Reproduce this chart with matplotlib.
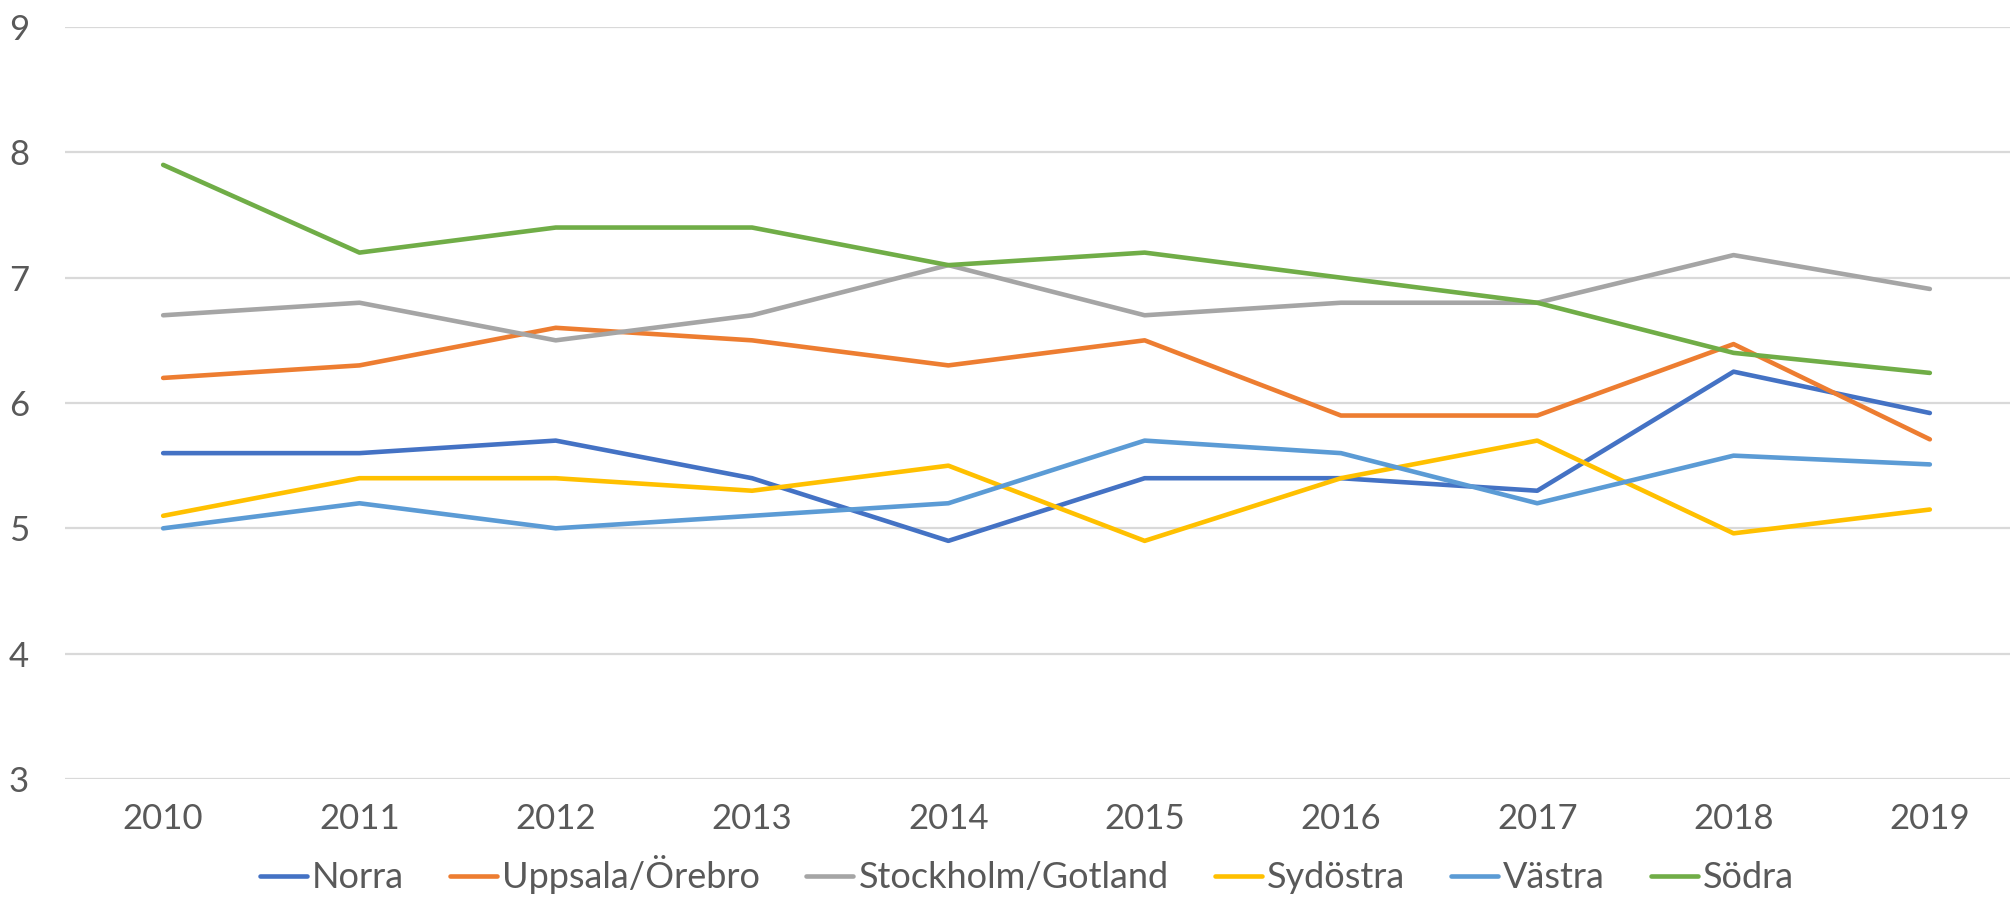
import matplotlib
matplotlib.use('Agg')
import matplotlib.pyplot as plt

years = ['2010', '2011', '2012', '2013', '2014', '2015', '2016', '2017', '2018', '2019']

norra = [5.6, 5.6, 5.7, 5.4, 4.9, 5.4, 5.4, 5.3, 6.25, 5.92]
uppsala_orebro = [6.2, 6.3, 6.6, 6.5, 6.3, 6.5, 5.9, 5.9, 6.47, 5.71]
stockholm_gotland = [6.7, 6.8, 6.5, 6.7, 7.1, 6.7, 6.8, 6.8, 7.18, 6.91]
sydostra = [5.1, 5.4, 5.4, 5.3, 5.5, 4.9, 5.4, 5.7, 4.96, 5.15]
vastra = [5.0, 5.2, 5.0, 5.1, 5.2, 5.7, 5.6, 5.2, 5.58, 5.51]
sodra = [7.9, 7.2, 7.4, 7.4, 7.1, 7.2, 7.0, 6.8, 6.4, 6.24]

series = [
    ('Norra', norra, '#4472C4'),
    ('Uppsala/Örebro', uppsala_orebro, '#ED7D31'),
    ('Stockholm/Gotland', stockholm_gotland, '#A5A5A5'),
    ('Sydöstra', sydostra, '#FFC000'),
    ('Västra', vastra, '#5B9BD5'),
    ('Södra', sodra, '#70AD47'),
]

plt.rcParams['font.family'] = ['Lato', 'DejaVu Sans']
text_color = '#595959'

fig = plt.figure(figsize=(20.1, 9.14), dpi=100)
# plot area runs a little past the right edge, as in the reference
ax = fig.add_axes([65 / 2010, 1 - 779 / 914, (2028 - 65) / 2010, (779 - 27) / 914])

x = list(range(len(years)))
for name, vals, col in series:
    ax.plot(x, vals, color=col, linewidth=3.3, label=name, solid_capstyle='round',
            solid_joinstyle='round', zorder=3)

ax.set_xlim(-0.5, len(years) - 0.5)
ax.set_ylim(3, 9)
ax.set_yticks(range(3, 10))
ax.set_xticks(x)
ax.set_xticklabels(years)
ax.yaxis.grid(True, color='#D9D9D9', linewidth=1.6)
ax.set_axisbelow(True)
for s in ax.spines.values():
    s.set_visible(False)
ax.tick_params(axis='both', length=0, labelsize=25, labelcolor=text_color)
ax.tick_params(axis='y', pad=26)
ax.tick_params(axis='x', pad=17)

fig.legend(loc='lower center', bbox_to_anchor=(0.511, -0.014), ncol=6, frameon=False,
           fontsize=26, labelcolor=text_color, handlelength=1.3, handletextpad=0.14,
           columnspacing=1.28)

fig.savefig('out.png', dpi=100)
